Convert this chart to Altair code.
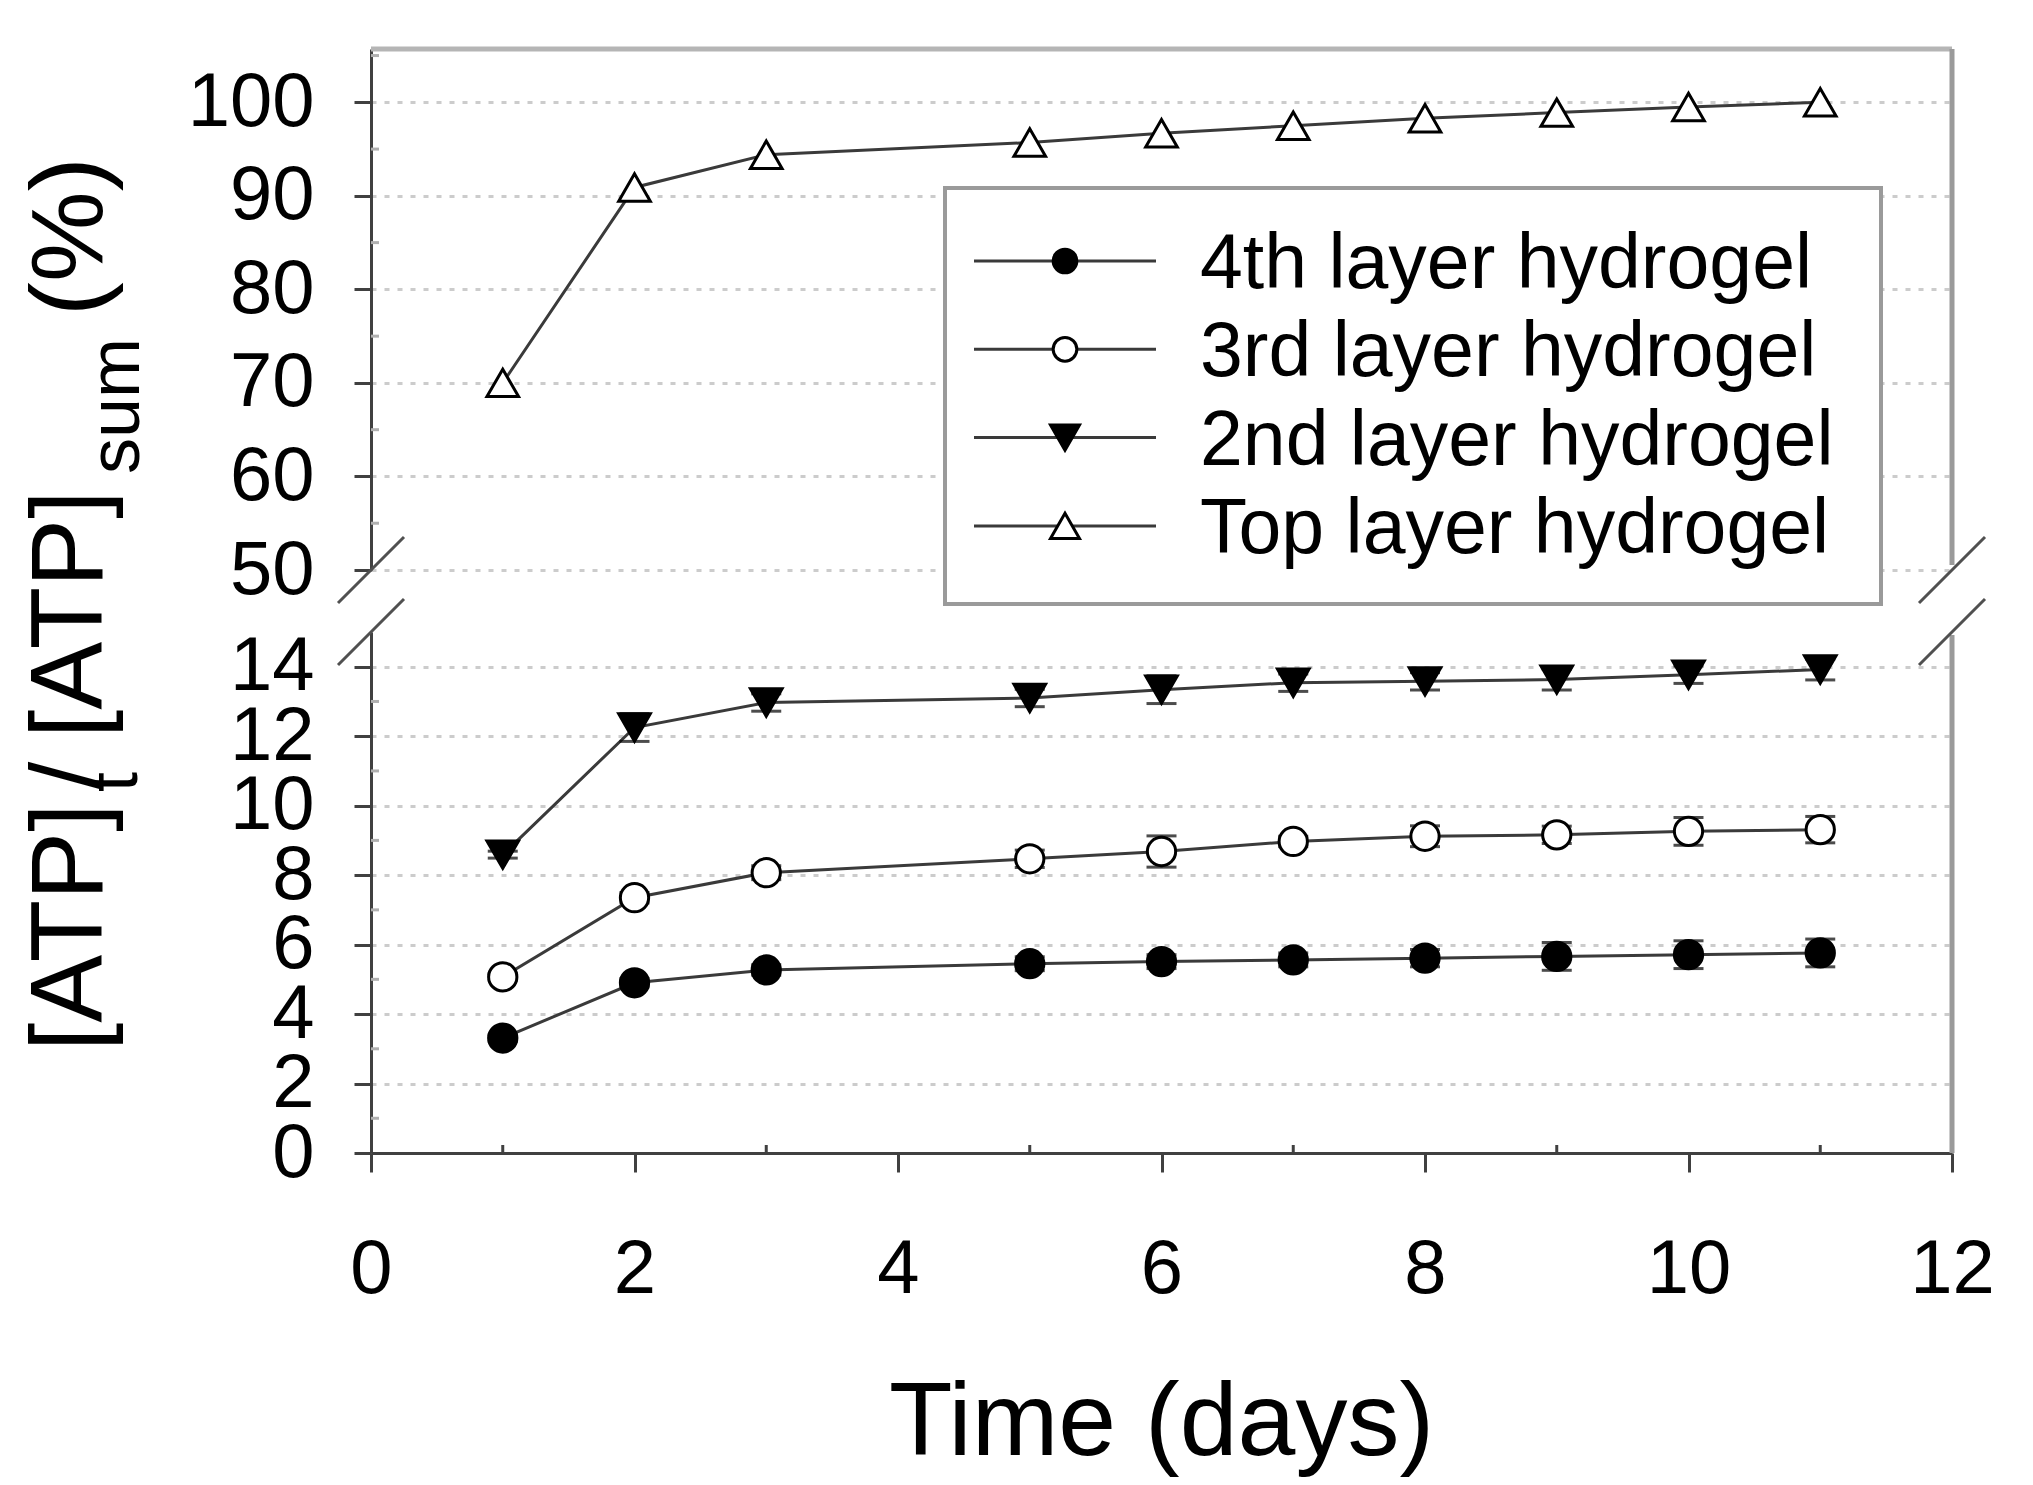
import altair as alt
import pandas as pd

# ---------------- data ----------------
days = [1, 2, 3, 5, 6, 7, 8, 9, 10, 11]
series_names = ["4th layer hydrogel", "3rd layer hydrogel", "2nd layer hydrogel", "Top layer hydrogel"]
atp_4th = [3.31, 4.90, 5.27, 5.45, 5.51, 5.56, 5.61, 5.66, 5.71, 5.76]
atp_3rd = [5.07, 7.35, 8.07, 8.47, 8.68, 8.97, 9.12, 9.16, 9.26, 9.31]
atp_2nd = [8.59, 12.25, 12.97, 13.10, 13.34, 13.54, 13.58, 13.63, 13.77, 13.92]
atp_top = [70.0, 90.9, 94.4, 95.7, 96.7, 97.5, 98.3, 98.9, 99.5, 100.0]
err_4th = [0.10, 0.12, 0.15, 0.20, 0.20, 0.20, 0.25, 0.40, 0.40, 0.40]
err_3rd = [0.10, 0.15, 0.20, 0.25, 0.45, 0.15, 0.30, 0.25, 0.40, 0.38]
err_2nd = [0.10, 0.40, 0.25, 0.25, 0.40, 0.25, 0.25, 0.30, 0.25, 0.30]

x_ticks = [0, 2, 4, 6, 8, 10, 12]
x_minor = [1, 3, 5, 7, 9, 11]
y_ticks_low = [0, 2, 4, 6, 8, 10, 12, 14]
y_minor_low = [1, 3, 5, 7, 9, 11, 13]
y_ticks_high = [50, 60, 70, 80, 90, 100]
y_minor_high = [55, 65, 75, 85, 95, 105]
x_title = "Time (days)"
y_title_parts = ["[ATP]", "t", "/", "[ATP]", "sum", "(%)"]

# ---------------- styles / layout ----------------
FONT = "Liberation Sans, Arial, sans-serif"
W = 1581
HU = 521
HL = 521
LINE_COLOR = "#3a3a3a"

series_styles = [
    dict(shape="circle", fill="black", size=800, lsize=560),
    dict(shape="circle", fill="white", size=800, lsize=560),
    dict(shape="triangle-down", fill="black", size=1000, lsize=840),
    dict(shape="triangle-up", fill="white", size=1000, lsize=840),
]
# (anchor x, anchor y, font size) relative to lower panel origin
title_part_pos = [(-269, 419, 102), (-234, 160, 72), (-269, 158, 102),
                  (-269, 106, 102), (-232, -158, 72), (-269, -316, 102)]
# legend box (relative to upper panel origin)
LEG_X0, LEG_X1, LEG_Y0, LEG_Y1 = 574, 1510, 139, 555
LEG_ROW0, LEG_ROW_STEP = 212, 88.3
LEG_LINE0, LEG_LINE1, LEG_SYM, LEG_TEXT = 603, 785, 694, 829

xS = alt.Scale(domain=[0, 12], nice=False, zero=False)
yL = alt.Scale(domain=[0, 15], nice=False, zero=False)
yU = alt.Scale(domain=[50, 105.7], nice=False, zero=False)

axis_y_low = alt.Axis(values=y_ticks_low, title=None, grid=True, format="d")
axis_y_high = alt.Axis(values=y_ticks_high, title=None, grid=True, format="d")
axis_x_low = alt.Axis(values=x_ticks, title=x_title, grid=False, format="d",
                      titleY=301, titleX=790, titleAlign="center",
                      titleBaseline="alphabetic")

one = pd.DataFrame({"a": [0]})


def series_layers(vals, errs, style, yscale, yaxis, xaxis):
    cols = {"day": days, "value": vals}
    if errs is not None:
        cols["lo"] = [v - e for v, e in zip(vals, errs)]
        cols["hi"] = [v + e for v, e in zip(vals, errs)]
    base = alt.Chart(pd.DataFrame(cols))
    x = alt.X("day:Q", scale=xS, axis=xaxis)
    layers = [base.mark_line(color=LINE_COLOR, strokeWidth=3).encode(
        x=x, y=alt.Y("value:Q", scale=yscale, axis=yaxis))]
    if errs is not None:
        layers += [
            base.mark_rule(color="black", strokeWidth=3).encode(
                x=x, y=alt.Y("lo:Q", scale=yscale, axis=yaxis), y2="hi:Q"),
            base.mark_tick(orient="horizontal", size=30, thickness=3, color="black").encode(
                x=x, y=alt.Y("lo:Q", scale=yscale, axis=yaxis)),
            base.mark_tick(orient="horizontal", size=30, thickness=3, color="black").encode(
                x=x, y=alt.Y("hi:Q", scale=yscale, axis=yaxis)),
        ]
    layers.append(base.mark_point(shape=style["shape"], size=style["size"], filled=True,
                                  fill=style["fill"], stroke="black", strokeWidth=3,
                                  opacity=1).encode(
        x=x, y=alt.Y("value:Q", scale=yscale, axis=yaxis)))
    return layers


def minor_y(values, yscale, yaxis, color):
    return alt.Chart(pd.DataFrame({"v": values})).mark_rule(
        color=color, strokeWidth=3).encode(
        x=alt.value(0), x2=alt.value(8), y=alt.Y("v:Q", scale=yscale, axis=yaxis))


def slash(cx, cy):
    return alt.Chart(one).mark_rule(color="#505050", strokeWidth=3).encode(
        x=alt.value(cx - 33), x2=alt.value(cx + 33),
        y=alt.value(cy + 33), y2=alt.value(cy - 33))


# ---------------- legend (drawn as a box of marks) ----------------
legend_layers = [alt.Chart(one).mark_rect(fill="white", stroke="#9a9a9a", strokeWidth=4).encode(
    x=alt.value(LEG_X0), x2=alt.value(LEG_X1), y=alt.value(LEG_Y0), y2=alt.value(LEG_Y1))]
for i, (name, st) in enumerate(zip(series_names, series_styles)):
    ly = LEG_ROW0 + i * LEG_ROW_STEP
    legend_layers.append(alt.Chart(one).mark_rule(color=LINE_COLOR, strokeWidth=3).encode(
        x=alt.value(LEG_LINE0), x2=alt.value(LEG_LINE1), y=alt.value(ly)))
    legend_layers.append(alt.Chart(one).mark_point(
        shape=st["shape"], size=st["lsize"], filled=True, fill=st["fill"],
        stroke="black", strokeWidth=3, opacity=1).encode(
        x=alt.value(LEG_SYM), y=alt.value(ly)))
    legend_layers.append(alt.Chart(pd.DataFrame({"t": [name]})).mark_text(
        align="left", baseline="middle", font=FONT, fontSize=77, color="black").encode(
        text="t:N", x=alt.value(LEG_TEXT), y=alt.value(ly + 4)))

# ---------------- upper panel ----------------
upper_layers = [
    minor_y(y_minor_high, yU, axis_y_high, "#b0b0b0"),
    alt.Chart(one).mark_rule(color="#b5b5b5", strokeWidth=5).encode(
        x=alt.value(0), x2=alt.value(W), y=alt.value(0)),
    alt.Chart(one).mark_rule(color="#9a9a9a", strokeWidth=5).encode(
        x=alt.value(W), y=alt.value(0), y2=alt.value(HU - 5)),
    slash(0, HU), slash(W, HU),
]
upper_layers += series_layers(atp_top, None, series_styles[3], yU, axis_y_high, None)
upper_layers += legend_layers
upper = alt.layer(*upper_layers).properties(width=W, height=HU)

# ---------------- lower panel ----------------
lower_layers = [
    minor_y(y_minor_low, yL, axis_y_low, "#b0b0b0"),
    alt.Chart(pd.DataFrame({"v": x_minor})).mark_rule(color="#404040", strokeWidth=3).encode(
        x=alt.X("v:Q", scale=xS, axis=axis_x_low), y=alt.value(HL - 8), y2=alt.value(HL)),
    alt.Chart(one).mark_rule(color="#9a9a9a", strokeWidth=5).encode(
        x=alt.value(W), y=alt.value(3), y2=alt.value(HL)),
    slash(0, 0), slash(W, 0),
]
for vals, errs, style in zip([atp_4th, atp_3rd, atp_2nd], [err_4th, err_3rd, err_2nd],
                             series_styles[:3]):
    lower_layers += series_layers(vals, errs, style, yL, axis_y_low, axis_x_low)

for part, (px, py, fs) in zip(y_title_parts, title_part_pos):
    lower_layers.append(
        alt.Chart(pd.DataFrame({"t": [part]})).mark_text(
            angle=270, align="left", baseline="alphabetic", font=FONT,
            fontSize=fs, color="black").encode(
            text="t:N", x=alt.value(px), y=alt.value(py)))

lower = alt.layer(*lower_layers).properties(width=W, height=HL)

chart = alt.vconcat(upper, lower, spacing=62, bounds="flush").resolve_scale(
    x="shared", y="independent").properties(
    padding={"left": 11, "top": 38, "right": 10, "bottom": 5}
).configure_view(stroke=None).configure_axis(
    labelFont=FONT, labelFontSize=76, labelColor="black",
    labelOverlap=False, labelFlush=False,
    domainColor="#404040", domainWidth=3,
    tickColor="#404040", tickWidth=3,
    gridColor="#cccccc", gridWidth=3, gridDash=[5, 8],
    titleFont=FONT, titleFontSize=104, titleFontWeight="normal", titleColor="black",
).configure_axisX(labelPadding=60, tickSize=19).configure_axisY(
    labelPadding=40, tickSize=17)

chart.save("out.html", embed_options={"renderer": "svg", "actions": False})
